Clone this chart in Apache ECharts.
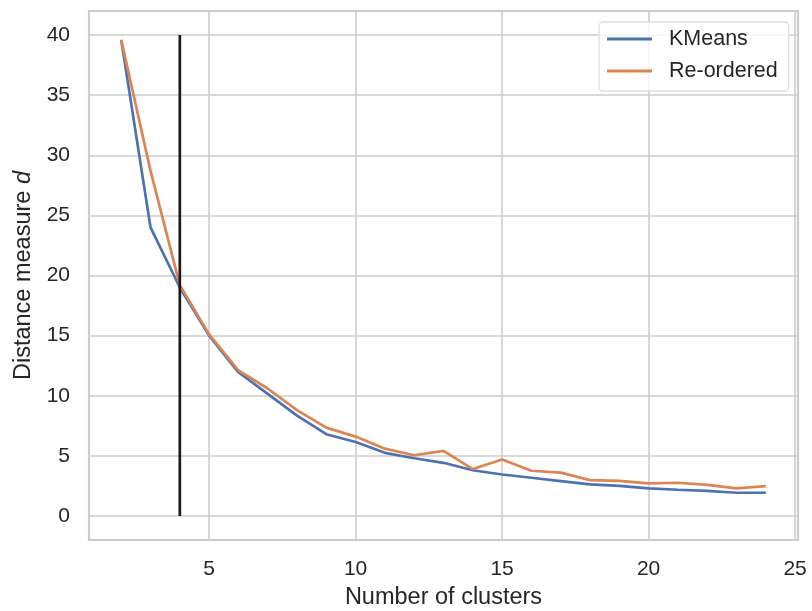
<!DOCTYPE html>
<html>
<head>
<meta charset="utf-8">
<script src="https://cdn.jsdelivr.net/npm/echarts@6/dist/echarts.min.js"></script>
<style>
html,body{margin:0;padding:0;background:#fff;}
#chart{width:812px;height:611px;}
</style>
</head>
<body>
<div id="chart"></div>
<script>
const clusters = [2,3,4,5,6,7,8,9,10,11,12,13,14,15,16,17,18,19,20,21,22,23,24];
const kmeans = [39.6,24.0,19.0,15.0,11.95,10.15,8.35,6.8,6.15,5.25,4.8,4.42,3.8,3.45,3.18,2.9,2.62,2.5,2.3,2.18,2.08,1.93,1.93];
const reordered = [39.6,28.7,19.2,15.1,12.1,10.6,8.8,7.35,6.6,5.6,5.05,5.42,3.9,4.7,3.76,3.6,2.98,2.92,2.71,2.76,2.58,2.3,2.48];
const elbowX = 4;
const elbowRange = [0, 40];
const xTicks = [5,10,15,20,25];
const yTicks = [0,5,10,15,20,25,30,35,40];
const seriesNames = ['KMeans','Re-ordered'];

const FONT = '"Liberation Sans", Arial, sans-serif';
const TXT = '#262626';
const GRID = '#cccccc';
const COLORS = ['#4C72B0','#DD8452'];

const chart = echarts.init(document.getElementById('chart'), null, {renderer:'canvas'});
chart.setOption({
  animation:false,
  backgroundColor:'#ffffff',
  textStyle:{fontFamily:FONT,color:TXT},
  grid:{left:89,right:14,top:11,bottom:71,containLabel:false,outerBoundsMode:'none',show:true,borderColor:GRID,borderWidth:2.2,backgroundColor:'transparent'},
  legend:{
    data:seriesNames.map((n,i)=>({name:n,icon:'rect',itemStyle:{color:COLORS[i]}})),
    left:599, top:22,
    orient:'vertical',
    padding:[6,11,9,8],
    itemGap:10,
    itemWidth:45, itemHeight:2.8,
    textStyle:{fontFamily:FONT,fontSize:21.5,color:TXT,padding:[0,0,0,12]},
    backgroundColor:'rgba(255,255,255,0.8)',
    borderColor:'#dddddd', borderWidth:1.3, borderRadius:4
  },
  xAxis:{
    type:'value', min:0.9, max:25.1,
    name:'Number of clusters', nameLocation:'middle', nameGap:46,
    nameTextStyle:{fontFamily:FONT,fontSize:23.5,color:TXT},
    axisLine:{show:false},
    axisTick:{show:false,customValues:xTicks},
    axisLabel:{customValues:xTicks,fontFamily:FONT,fontSize:21,color:TXT,margin:19},
    splitLine:{show:true,lineStyle:{color:GRID,width:1.6}}
  },
  yAxis:{
    type:'value', min:-2, max:42,
    name:'{a|Distance measure }{i|d}', nameLocation:'middle', nameGap:47, nameRotate:90,
    nameTextStyle:{fontFamily:FONT,fontSize:23.5,color:TXT,
      rich:{a:{fontFamily:FONT,fontSize:23.5,color:TXT},i:{fontFamily:FONT,fontSize:23.5,color:TXT,fontStyle:'italic'}}},
    axisLine:{show:false},
    axisTick:{show:false,customValues:yTicks},
    axisLabel:{customValues:yTicks,fontFamily:FONT,fontSize:21,color:TXT,margin:19},
    splitLine:{show:true,lineStyle:{color:GRID,width:1.6}}
  },
  series:[
    {name:seriesNames[0],type:'line',symbol:'none',data:clusters.map((c,i)=>[c,kmeans[i]]),
     lineStyle:{color:COLORS[0],width:2.7},itemStyle:{color:COLORS[0]}},
    {name:seriesNames[1],type:'line',symbol:'none',data:clusters.map((c,i)=>[c,reordered[i]]),
     lineStyle:{color:COLORS[1],width:2.7},itemStyle:{color:COLORS[1]}},
    {name:'elbow',type:'line',symbol:'none',data:elbowRange.map(v=>[elbowX,v]),
     lineStyle:{color:'#1a1a1a',width:2.7},itemStyle:{color:'#1a1a1a'}}
  ]
});
</script>
</body>
</html>
